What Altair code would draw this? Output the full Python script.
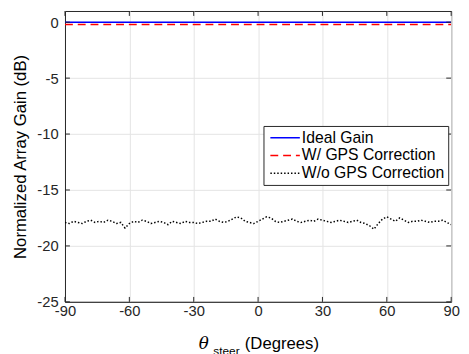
import altair as alt
import pandas as pd

# ---- data ----
series_names = ["Ideal Gain", "W/ GPS Correction", "W/o GPS Correction"]
series_colors = ["#0000ff", "#ff0000", "#000000"]
series_dash = [[1, 0], [8, 5], [1.5, 2]]

ideal_theta = [-90, 90]
ideal_gain = [0.0, 0.0]

gps_theta = [-90, 90]
gps_gain = [-0.2, -0.2]

nogps_theta = list(range(-90, 91, 2))
nogps_gain = [
    -17.9, -18.0, -17.8, -17.9, -18.0, -17.8, -17.7, -17.9, -17.8, -17.9,
    -17.7, -17.8, -18.0, -17.9, -18.4, -18.0, -17.8, -17.9, -17.7, -17.8,
    -18.0, -17.9, -17.8, -17.9, -18.1, -17.8, -17.9, -18.0, -17.8, -17.9,
    -17.9, -18.0, -17.9, -17.8, -17.8, -17.6, -17.8, -17.9, -17.8, -17.6,
    -17.4, -17.5, -17.8, -17.9, -18.0, -17.8, -17.6, -17.4, -17.5, -17.8,
    -17.9, -17.8, -17.7, -17.6, -17.8, -17.9, -17.8, -17.7, -17.8, -17.6,
    -17.7, -17.8, -17.9, -17.8, -17.7, -17.8, -17.9, -17.8, -17.7, -17.9,
    -18.0, -18.2, -18.5, -18.0, -17.6, -17.4, -17.6, -17.8, -17.5, -17.7,
    -17.9, -17.8, -17.8, -17.7, -17.8, -17.9, -17.8, -17.8, -17.7, -17.9,
    -18.1,
]

x_ticks = [-90, -60, -30, 0, 30, 60, 90]
y_ticks = [-25, -20, -15, -10, -5, 0]
x_domain = [-90, 90]
y_domain = [-25, 1]

rows = []
for t, g in zip(ideal_theta, ideal_gain):
    rows.append({"theta": t, "gain": g, "series": series_names[0]})
for t, g in zip(gps_theta, gps_gain):
    rows.append({"theta": t, "gain": g, "series": series_names[1]})
for t, g in zip(nogps_theta, nogps_gain):
    rows.append({"theta": t, "gain": g, "series": series_names[2]})
df = pd.DataFrame(rows)

W, H = 393, 296
FONT = "Liberation Sans"
AX = "#262626"

xscale = alt.Scale(domain=x_domain, nice=False, zero=False)
yscale = alt.Scale(domain=y_domain, nice=False, zero=False)

legend = alt.Legend(
    title=None, orient="none", legendX=202, legendY=117,
    labelFont=FONT, labelFontSize=16, labelColor="#000000",
    symbolType="M-3,0H3", symbolSize=100, symbolStrokeWidth=1.5, symbolOffset=10,
    padding=4, rowPadding=2, labelOffset=9, labelLimit=400,
    strokeColor=AX, fillColor="white", cornerRadius=0,
)

lines = alt.Chart(df).mark_line(strokeWidth=1.5, clip=True).encode(
    x=alt.X("theta:Q", scale=xscale,
            axis=alt.Axis(values=x_ticks, tickSize=0, labelPadding=2, title=None,
                          grid=True, labelFlush=False,
                          labelExpr="toString(datum.value)")),
    y=alt.Y("gain:Q", scale=yscale,
            axis=alt.Axis(values=y_ticks, tickSize=0, labelPadding=7,
                          labelExpr="toString(datum.value)",
                          title="Normalized Array Gain (dB)", titleX=-45, titleY=H / 2,
                          titleAngle=-90, titleAlign="center", titleBaseline="middle",
                          grid=True)),
    color=alt.Color("series:N", scale=alt.Scale(domain=series_names, range=series_colors),
                    legend=legend),
    strokeDash=alt.StrokeDash("series:N", scale=alt.Scale(domain=series_names, range=series_dash),
                              legend=legend),
)

xt = pd.DataFrame({"theta": x_ticks})
yt = pd.DataFrame({"gain": y_ticks})
tick_bottom = alt.Chart(xt).mark_rule(color=AX, strokeWidth=1).encode(
    x=alt.X("theta:Q", scale=xscale), y=alt.value(H), y2=alt.value(H - 5))
tick_top = alt.Chart(xt).mark_rule(color=AX, strokeWidth=1).encode(
    x=alt.X("theta:Q", scale=xscale), y=alt.value(0), y2=alt.value(5))
tick_left = alt.Chart(yt).mark_rule(color=AX, strokeWidth=1).encode(
    y=alt.Y("gain:Q", scale=yscale), x=alt.value(0), x2=alt.value(5))
tick_right = alt.Chart(yt).mark_rule(color=AX, strokeWidth=1).encode(
    y=alt.Y("gain:Q", scale=yscale), x=alt.value(W), x2=alt.value(W - 5))

one = pd.DataFrame({"a": [0]})
t_theta = alt.Chart(one).mark_text(font="DejaVu Serif", fontStyle="italic", fontSize=17,
                                   align="left", baseline="alphabetic", color="#000000").encode(
    x=alt.value(136), y=alt.value(344), text=alt.value("θ"))
t_sub = alt.Chart(one).mark_text(font=FONT, fontSize=12, align="left",
                                 baseline="alphabetic", color="#000000").encode(
    x=alt.value(151), y=alt.value(350), text=alt.value("steer"))
t_deg = alt.Chart(one).mark_text(font=FONT, fontSize=17, align="left",
                                 baseline="alphabetic", color="#000000").encode(
    x=alt.value(183), y=alt.value(344), text=alt.value("(Degrees)"))

chart = alt.layer(
    lines, tick_bottom, tick_top, tick_left, tick_right, t_theta, t_sub, t_deg
).properties(
    width=W, height=H,
    autosize=alt.AutoSizeParams(type="none"),
    padding={"left": 58, "top": 0, "right": 10, "bottom": 50},
).configure_view(
    stroke=AX, strokeWidth=1
).configure_axis(
    labelFont=FONT, labelFontSize=15, labelColor=AX,
    titleFont=FONT, titleFontSize=17, titleFontWeight="normal", titleColor="#000000",
    gridColor="#e3e3e3", gridWidth=1, domainColor=AX, domainWidth=1,
)

chart.save("out.html", embed_options={"renderer": "svg", "actions": False})
